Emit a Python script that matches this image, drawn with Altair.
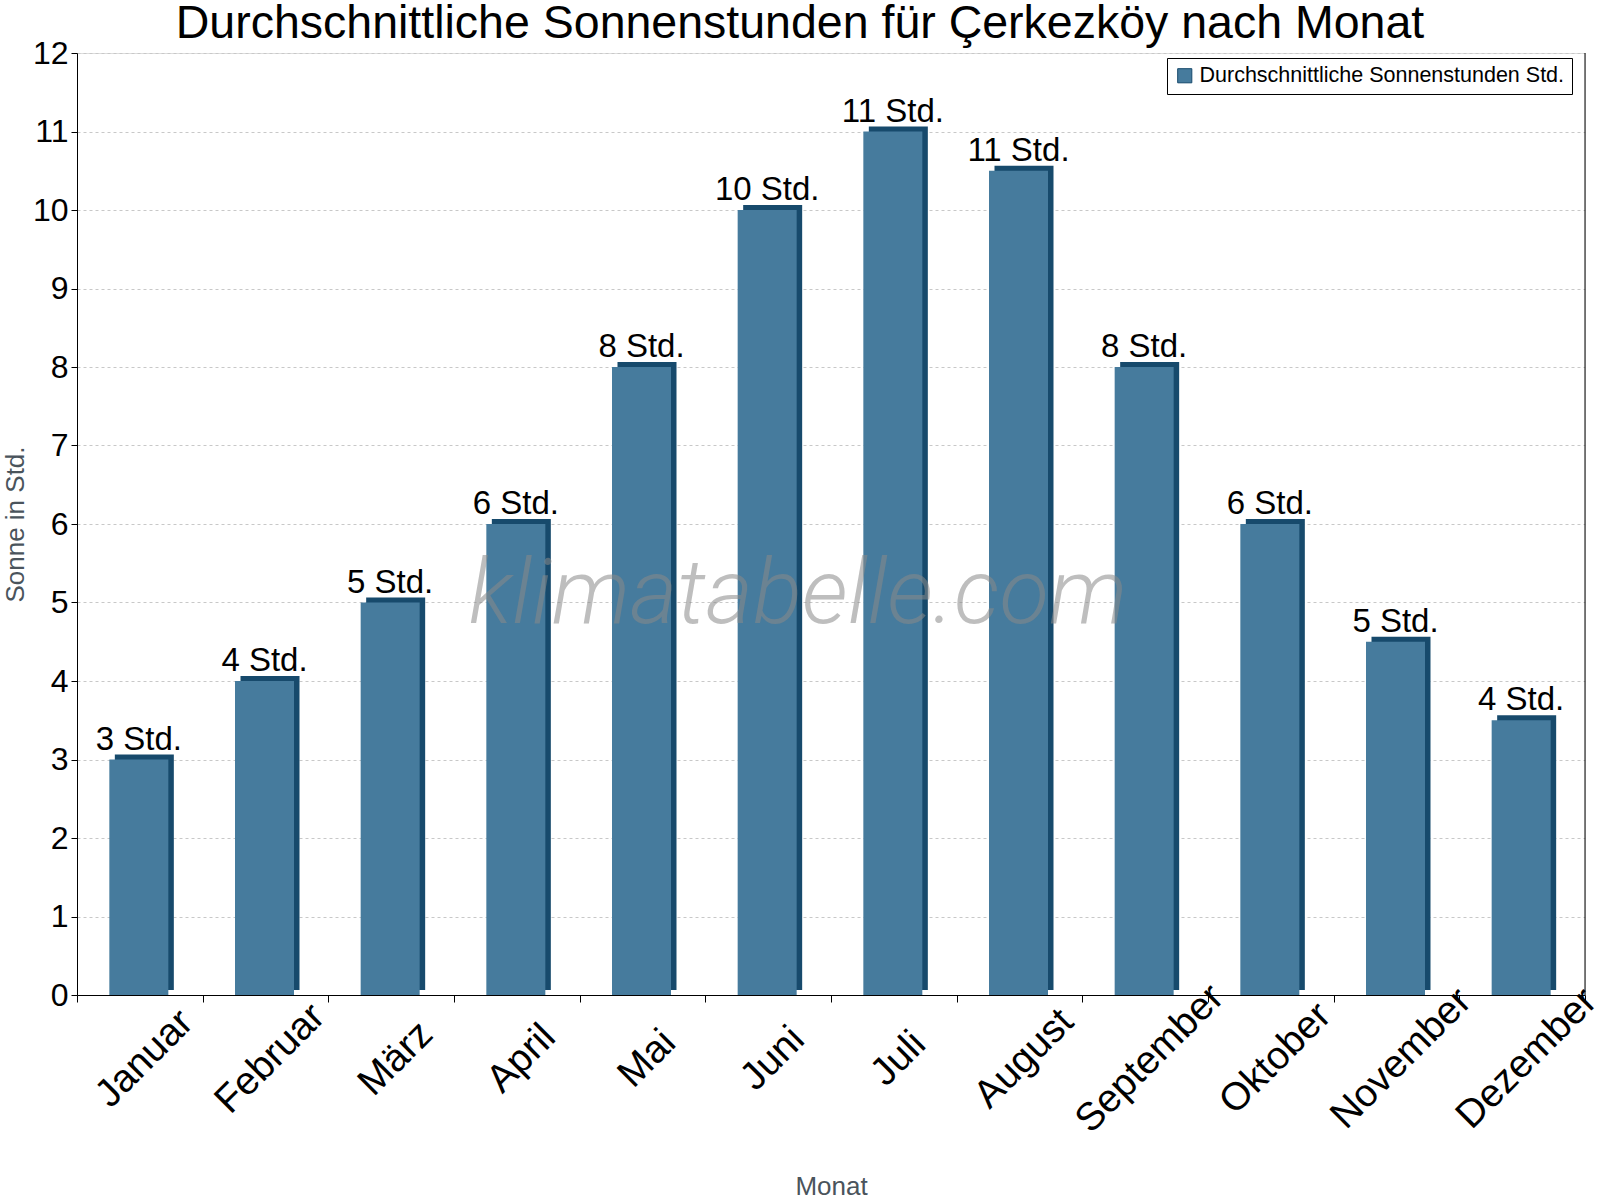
import altair as alt
import pandas as pd

MONTHS = ["Januar", "Februar", "März", "April", "Mai", "Juni", "Juli",
          "August", "September", "Oktober", "November", "Dezember"]
SUN_HOURS = [3, 4, 5, 6, 8, 10, 11, 10.5, 8, 6, 4.5, 3.5]
LABELS = ["3 Std.", "4 Std.", "5 Std.", "6 Std.", "8 Std.", "10 Std.", "11 Std.",
          "11 Std.", "8 Std.", "6 Std.", "5 Std.", "4 Std."]
SERIES = "Durchschnittliche Sonnenstunden Std."
TITLE = "Durchschnittliche Sonnenstunden für Çerkezköy nach Monat"
Y_TITLE = "Sonne in Std."
X_TITLE = "Monat"
WATERMARK = "klimatabelle.com"
Y_TICKS = list(range(0, 13))

FRONT = "#467b9d"
DARK = "#174a6c"
FONT = "Liberation Sans"

W, H = 1508, 942

df = pd.DataFrame({"month": MONTHS, "hours": SUN_HOURS, "label": LABELS,
                   "series": [SERIES] * len(MONTHS)})

x_enc = alt.X(
    "month:N", sort=MONTHS, title=X_TITLE,
    scale=alt.Scale(paddingInner=0, paddingOuter=0),
    axis=alt.Axis(
        tickBand="extent", tickSize=7, tickColor="black", domainColor="black",
        labelFontSize=39, labelFont=FONT, labelColor="black",
        labelAngle=-45, labelAlign="center", labelBaseline="middle",
        labelOffset=4, labelPadding=56, labelOverlap=False, labelBound=False,
        labelLimit=0, grid=False,
        titleFont=FONT, titleFontSize=26, titleFontWeight="normal",
        titleColor="#4a545c", titleX=W / 2, titleY=199,
        titleBaseline="alphabetic", titleAlign="center",
    ),
)
y_enc = alt.Y(
    "hours:Q", title=Y_TITLE,
    scale=alt.Scale(domain=[0, 12], nice=False, zero=True),
    axis=alt.Axis(
        values=Y_TICKS, tickSize=6, tickColor="black", domainColor="black",
        labelFontSize=32, labelFont=FONT, labelColor="black", labelPadding=3,
        grid=True, gridColor="#c8c8c8", gridDash=[3, 3], gridWidth=1,
        titleFont=FONT, titleFontSize=26, titleFontWeight="normal",
        titleColor="#4a545c", titleAngle=-90, titleX=-62, titleY=H / 2,
        titleAlign="center", titleBaseline="middle",
    ),
)

back = alt.Chart(df).mark_bar(size=59, xOffset=4.5, yOffset=-5, color=DARK).encode(
    x=x_enc, y=y_enc
)
front = alt.Chart(df).mark_bar(size=59, xOffset=-1).encode(
    x=x_enc, y=y_enc,
    color=alt.Color(
        "series:N",
        scale=alt.Scale(range=[FRONT]),
        legend=alt.Legend(
            orient="none", legendX=1090, legendY=5, title=None,
            labelFontSize=21.5, labelFont=FONT, labelColor="black", labelLimit=600,
            symbolType="square", symbolSize=200, symbolStrokeColor=DARK,
            symbolStrokeWidth=1, symbolFillColor=FRONT,
            strokeColor="black", fillColor="white", padding=7, cornerRadius=0,
        ),
    ),
)
labels = alt.Chart(df).mark_text(
    fontSize=33, font=FONT, color="black", baseline="alphabetic", dy=-10, dx=-1
).encode(x=x_enc, y=y_enc, text="label:N")

wm = alt.Chart(pd.DataFrame({"t": [WATERMARK]})).mark_text(
    font="Roboto", fontStyle="italic", fontWeight=300, fontSize=91,
    color="#8a8a8a", opacity=0.55, align="center", baseline="alphabetic"
).encode(x=alt.value(721), y=alt.value(570), text="t:N")

right_rule = alt.Chart(pd.DataFrame({"t": [0]})).mark_rule(color="black").encode(
    x=alt.value(W), y=alt.value(0), y2=alt.value(H)
)

chart = alt.layer(back, front, labels, wm, right_rule).properties(
    width=W, height=H,
    title=alt.TitleParams(
        text=TITLE, fontSize=46.5, font=FONT, fontWeight="normal", color="black",
        anchor="middle", dx=-31, offset={"expr": "-10"},
    ),
    autosize=alt.AutoSizeParams(type="none"),
    padding={"left": 77, "top": 53, "right": 15, "bottom": 205},
).configure_view(strokeOpacity=0).configure(background="white")

chart.save("out.html", embed_options={"renderer": "svg", "actions": False})
